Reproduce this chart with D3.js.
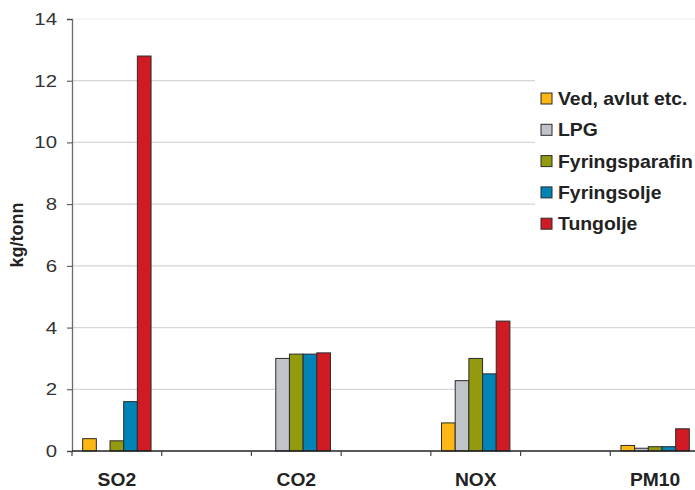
<!DOCTYPE html>
<html>
<head>
<meta charset="utf-8">
<script src="https://cdn.jsdelivr.net/npm/d3@7"></script>
<style>
  html, body { margin: 0; padding: 0; background: #fff; }
  svg { display: block; font-family: "Liberation Sans", Arial, sans-serif; }
</style>
</head>
<body>
<svg id="chart" width="695" height="490"></svg>
<script>
// Emission factors (kg/tonn) per pollutant and fuel type
const categories = ["SO2", "", "CO2", "", "NOX", "", "PM10"];
const seriesNames = ["Ved, avlut etc.", "LPG", "Fyringsparafin", "Fyringsolje", "Tungolje"];
const seriesColors = ["#FDB714", "#C0C4CA", "#949A0E", "#0083B7", "#D11B24"];
const vedValues      = [0.40, null, 0,    null, 0.91, null, 0.18];
const lpgValues      = [0,    null, 3.00, null, 2.28, null, 0.09];
const parafinValues  = [0.33, null, 3.14, null, 3.00, null, 0.14];
const fyrOljeValues  = [1.60, null, 3.14, null, 2.50, null, 0.14];
const tungoljeValues = [12.8, null, 3.18, null, 4.21, null, 0.72];
const yTicks = [0, 2, 4, 6, 8, 10, 12, 14];

const series = [vedValues, lpgValues, parafinValues, fyrOljeValues, tungoljeValues];

// Text is drawn slightly wide
const stretch = 1.11;

const svg = d3.select("#chart");
const margin = { left: 72, right: -5, top: 19, bottom: 39 };
const W = 695, H = 490;

const x = d3.scaleBand()
  .domain(d3.range(categories.length))
  .range([margin.left, W - margin.right])
  .paddingInner(0).paddingOuter(0);

const y = d3.scaleLinear().domain([0, 14]).range([H - margin.bottom, margin.top]);

const inner = d3.scaleBand()
  .domain(d3.range(series.length))
  .range([0, x.bandwidth()])
  .paddingOuter(0.78).paddingInner(0);

// Gridlines
svg.append("g")
  .selectAll("line")
  .data(yTicks.filter(d => d > 0))
  .join("line")
  .attr("x1", margin.left).attr("x2", W)
  .attr("y1", d => y(d)).attr("y2", d => y(d))
  .attr("stroke", d => d === 14 ? "#eeeeee" : "#d6d6da")
  .attr("stroke-width", 1.2);

// Bars
const rows = [];
series.forEach((vals, si) => {
  vals.forEach((v, ci) => {
    if (v != null && v > 0) rows.push({ si, ci, v });
  });
});
svg.append("g")
  .selectAll("rect")
  .data(rows)
  .join("rect")
  .attr("x", d => x(d.ci) + inner(d.si))
  .attr("width", inner.bandwidth())
  .attr("y", d => y(d.v))
  .attr("height", d => y(0) - y(d.v))
  .attr("fill", d => seriesColors[d.si])
  .attr("stroke", "#2b2b2b")
  .attr("stroke-width", 1);

// Y axis
const yAxis = svg.append("g")
  .attr("transform", `translate(${margin.left},0)`)
  .call(d3.axisLeft(y).tickValues(yTicks).tickSize(5));
yAxis.select(".domain").attr("stroke", "#6b6b6b").attr("stroke-width", 1.3);
yAxis.selectAll(".tick line").attr("stroke", "#444");
yAxis.selectAll(".tick text")
  .attr("x", -15 / 1.2)
  .attr("transform", "scale(1.2,1)")
  .attr("font-size", 17).attr("fill", "#333")
  .attr("font-family", "Liberation Sans, Arial, sans-serif");

// X axis with separators between bands
const xAxisG = svg.append("g").attr("transform", `translate(0,${y(0)})`);
xAxisG.append("line")
  .attr("x1", margin.left).attr("x2", W)
  .attr("stroke", "#222").attr("stroke-width", 1.3);
xAxisG.selectAll("line.sep")
  .data(d3.range(categories.length + 1))
  .join("line").attr("class", "sep")
  .attr("x1", i => i < categories.length ? x(i) : x(categories.length - 1) + x.bandwidth())
  .attr("x2", i => i < categories.length ? x(i) : x(categories.length - 1) + x.bandwidth())
  .attr("y1", 0).attr("y2", 5)
  .attr("stroke", "#444").attr("stroke-width", 1.2);
xAxisG.selectAll("text")
  .data(categories.map((c, i) => ({ c, i })).filter(d => d.c))
  .join("text")
  .attr("transform", d => `translate(${x(d.i) + x.bandwidth() / 2},35) scale(1.1,1)`)
  .attr("text-anchor", "middle")
  .attr("font-size", 17.5).attr("font-weight", "bold").attr("fill", "#222")
  .text(d => d.c);

// Y title
svg.append("text")
  .attr("transform", `translate(23,${(y(0) + y(14)) / 2}) rotate(-90)`)
  .attr("text-anchor", "middle")
  .attr("font-size", 18).attr("font-weight", "bold").attr("fill", "#222")
  .text("kg/tonn");

// Legend
const legend = svg.append("g").attr("transform", "translate(535,76)");
legend.append("rect")
  .attr("x", 0).attr("y", 0).attr("width", 165).attr("height", 168)
  .attr("fill", "#fff");
const item = legend.selectAll("g.item")
  .data(seriesNames)
  .join("g").attr("class", "item")
  .attr("transform", (d, i) => `translate(6,${22 + i * 31.3})`);
item.append("rect")
  .attr("x", 0).attr("y", -5).attr("width", 11).attr("height", 11)
  .attr("fill", (d, i) => seriesColors[i])
  .attr("stroke", "#2b2b2b").attr("stroke-width", 1);
item.append("text")
  .attr("transform", `translate(17,7) scale(${stretch},1)`)
  .attr("font-size", 17.5).attr("font-weight", "bold").attr("fill", "#222")
  .text(d => d);
</script>
</body>
</html>
